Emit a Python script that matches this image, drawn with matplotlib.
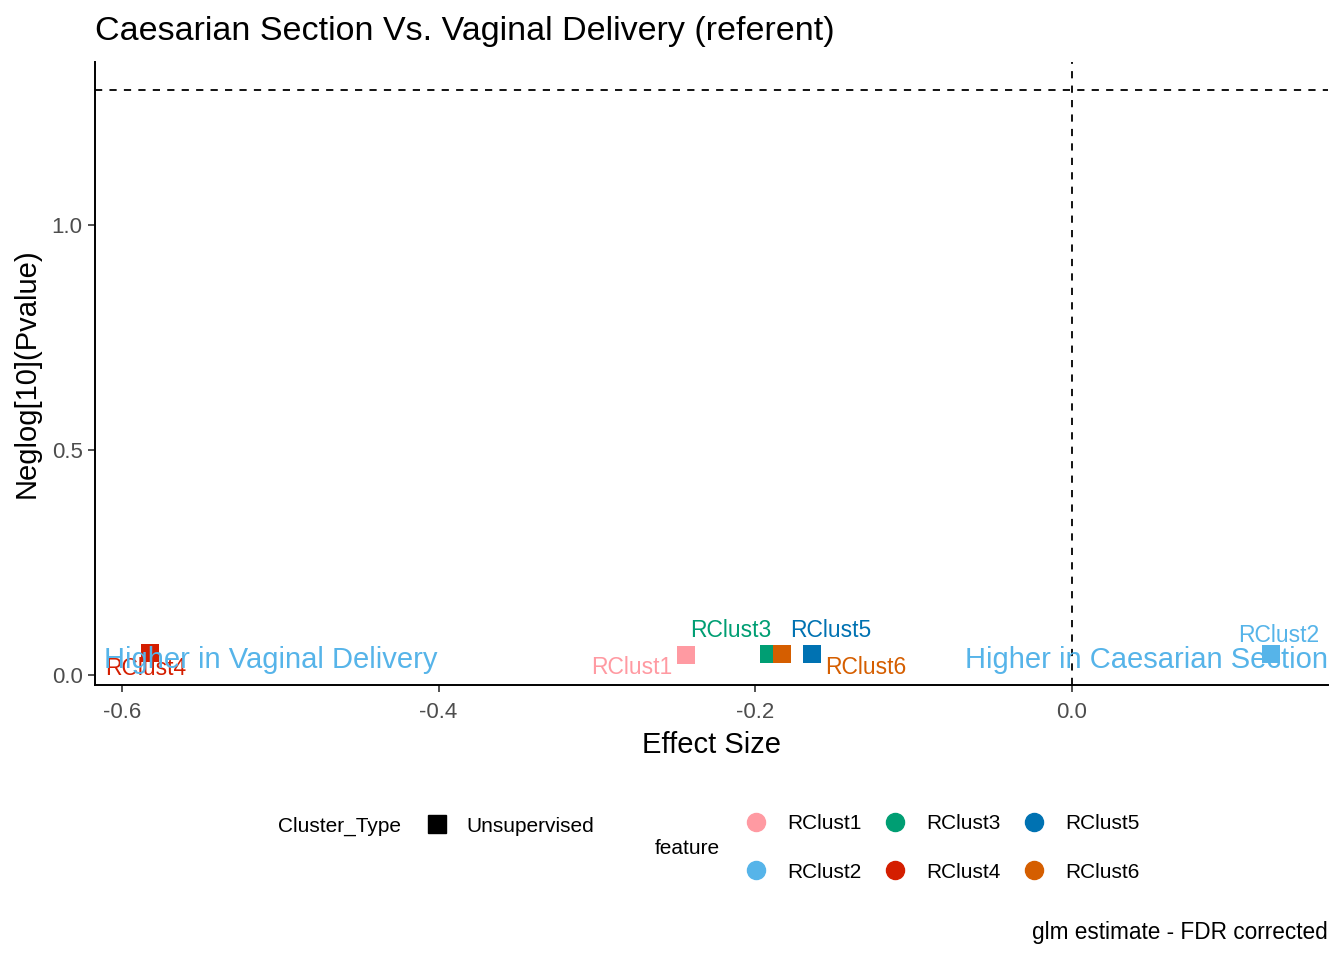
import matplotlib
matplotlib.use("Agg")
import matplotlib.pyplot as plt
from matplotlib.lines import Line2D
from matplotlib.transforms import blended_transform_factory

plt.rcParams['font.family'] = ['Liberation Sans', 'DejaVu Sans']

# data
features = ["RClust1", "RClust2", "RClust3", "RClust4", "RClust5", "RClust6"]
effect_size = [-0.244, 0.126, -0.191, -0.582, -0.164, -0.183]
neglog_p = [0.044, 0.047, 0.047, 0.049, 0.047, 0.047]
colors = ["#FF9AA2", "#56B4E9", "#009E73", "#D41E00", "#0072B2", "#D55E00"]

# repel-style label offsets (points) per feature
label_offsets = [(-39, -9), (5, 13), (-28, 16.5), (-3.5, -11), (13.5, 16.5), (60, -10)]

fig = plt.figure(figsize=(13.44, 9.6), dpi=100)
ax = fig.add_axes([0.0707, 0.2865, 0.9173, 0.6489])

# reference lines
ax.axhline(1.3, color="black", linestyle=(0, (4, 4)), linewidth=1.3, zorder=1)
ax.axvline(0.0, color="black", linestyle=(0, (4, 4)), linewidth=1.3, zorder=1)

for f, x, y, c in zip(features, effect_size, neglog_p, colors):
    ax.scatter(x, y, marker="s", s=175, color=c, zorder=3, linewidths=0)

for f, x, y, c, off in zip(features, effect_size, neglog_p, colors, label_offsets):
    ax.annotate(f, (x, y), xytext=off, textcoords="offset points",
                ha="center", va="center", color=c, fontsize=16.5, zorder=4)

trans = blended_transform_factory(ax.transAxes, ax.transData)
ax.text(0.007, 0.033, "Higher in Vaginal Delivery", transform=trans,
        ha="left", va="center", color="#56B4E9", fontsize=21, zorder=5)
ax.text(1.0, 0.033, "Higher in Caesarian Section", transform=trans,
        ha="right", va="center", color="#56B4E9", fontsize=21, zorder=5)

ax.set_xlim(-0.617, 0.1617)
ax.set_ylim(-0.022, 1.362)
ax.set_xticks([-0.6, -0.4, -0.2, 0.0])
ax.set_xticklabels(["-0.6", "-0.4", "-0.2", "0.0"])
ax.set_yticks([0.0, 0.5, 1.0])
ax.set_yticklabels(["0.0", "0.5", "1.0"])
ax.tick_params(labelsize=16, colors="#333333", length=5, width=1.2, labelcolor="#4D4D4D")
ax.tick_params(axis="x", pad=7)
ax.tick_params(axis="y", pad=4)
for s in ["top", "right"]:
    ax.spines[s].set_visible(False)
for s in ["left", "bottom"]:
    ax.spines[s].set_linewidth(1.4)

ax.set_xlabel("Effect Size", fontsize=21, labelpad=6)
ax.set_ylabel("Neglog[10](Pvalue)", fontsize=21, labelpad=8)
ax.set_title("Caesarian Section Vs. Vaginal Delivery (referent)", fontsize=24.5,
             loc="left", pad=16)

# legends
fig.text(278 / 1344, 1 - 826 / 960, "Cluster_Type", fontsize=15, va="center", ha="left")
h1 = [Line2D([], [], marker="s", linestyle="", color="black", markersize=13)]
fig.legend(h1, ["Unsupervised"], loc="center left", bbox_to_anchor=(414 / 1344, 1 - 826 / 960),
           frameon=False, fontsize=15, handletextpad=0.8, borderpad=0, handlelength=1.2)

fig.text(655 / 1344, 1 - 849 / 960, "feature", fontsize=15, va="center", ha="left")
h2 = [Line2D([], [], marker="o", linestyle="", color=c, markersize=13) for c in colors]
fig.legend(h2, features, ncol=3, loc="center left", bbox_to_anchor=(733 / 1344, 1 - 848 / 960),
           frameon=False, fontsize=15, handletextpad=0.9, columnspacing=1.0,
           labelspacing=1.4, borderpad=0, handlelength=1.2)

fig.text(1328 / 1344, 1 - 933 / 960, "glm estimate - FDR corrected", fontsize=16.3,
         ha="right", va="center")

fig.savefig("out.png", dpi=100)
